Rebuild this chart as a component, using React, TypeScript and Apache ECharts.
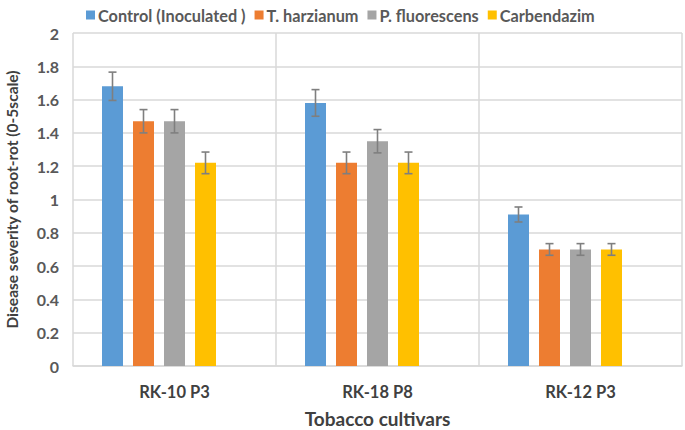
import React, { useEffect, useRef } from "react";
import * as echarts from "echarts";

const categories = ["RK-10 P3", "RK-18 P8", "RK-12 P3"];
const seriesNames = ["Control (Inoculated )", "T. harzianum", "P. fluorescens", "Carbendazim"];
const controlValues = [1.68, 1.58, 0.91];
const harzianumValues = [1.47, 1.22, 0.7];
const fluorescensValues = [1.47, 1.35, 0.7];
const carbendazimValues = [1.22, 1.22, 0.7];
const controlErr = [0.085, 0.08, 0.045];
const harzianumErr = [0.07, 0.065, 0.035];
const fluorescensErr = [0.07, 0.07, 0.035];
const carbendazimErr = [0.065, 0.065, 0.035];
const yTicks = [0, 0.2, 0.4, 0.6, 0.8, 1, 1.2, 1.4, 1.6, 1.8, 2];

const colors = ["#5b9bd5", "#ed7d31", "#a5a5a5", "#ffc000"];
const BAR_W = 21;
const BAR_GAP = 10;

export default function App() {
  const ref = useRef<HTMLDivElement>(null);
  useEffect(() => {
    if (!ref.current) return;
    const chart = echarts.init(ref.current, null, { renderer: "svg" });
    const values = [controlValues, harzianumValues, fluorescensValues, carbendazimValues];
    const errs = [controlErr, harzianumErr, fluorescensErr, carbendazimErr];
    const font = "Lato, 'Open Sans', sans-serif";
    const barSeries: any[] = values.map((v, i) => ({
      name: seriesNames[i],
      type: "bar",
      data: v,
      barWidth: BAR_W,
      barGap: (BAR_GAP / BAR_W) * 100 + "%",
      itemStyle: { color: colors[i] },
    }));
    barSeries.push({
      name: "_spacer",
      type: "bar",
      data: categories.map(() => null),
      barWidth: BAR_W,
      itemStyle: { color: "transparent" },
    });
    const errSeries: any[] = values.map((v, i) => ({
      name: seriesNames[i] + "_err",
      type: "custom",
      data: v.map((val, j) => [j, val - errs[i][j], val + errs[i][j]]),
      z: 10,
      renderItem: (params: any, api: any) => {
        const x = api.value(0);
        const lo = api.coord([x, api.value(1)]);
        const hi = api.coord([x, api.value(2)]);
        const off = (i - 2) * (BAR_W + BAR_GAP);
        const cx = lo[0] + off;
        const cap = 4;
        const style = { stroke: "#7f7f7f", lineWidth: 1.6, fill: "none" };
        return {
          type: "group",
          children: [
            { type: "line", shape: { x1: cx, y1: lo[1], x2: cx, y2: hi[1] }, style },
            { type: "line", shape: { x1: cx - cap, y1: lo[1], x2: cx + cap, y2: lo[1] }, style },
            { type: "line", shape: { x1: cx - cap, y1: hi[1], x2: cx + cap, y2: hi[1] }, style },
          ],
        };
      },
    }));
    chart.setOption({
      animation: false,
      color: colors,
      textStyle: { fontFamily: font },
      legend: {
        data: seriesNames,
        top: 2,
        left: 81,
        itemWidth: 9,
        itemHeight: 9,
        itemGap: 9,
        icon: "rect",
        textStyle: { fontSize: 16.3, fontWeight: "bold", color: "#595959", fontFamily: font, padding: [0, 0, 0, -2] },
      },
      grid: { left: 73, right: 3, top: 33, bottom: 64, outerBoundsMode: "none", containLabel: false },
      xAxis: {
        type: "category",
        data: categories,
        name: "Tobacco cultivars",
        nameLocation: "middle",
        nameGap: 43,
        nameTextStyle: { fontSize: 19, fontWeight: "bold", color: "#404040", fontFamily: font },
        axisLine: { show: true, lineStyle: { color: "#d9d9d9", width: 1.5 } },
        axisTick: { show: false },
        axisLabel: { fontSize: 16.5, fontWeight: "bold", color: "#404040", margin: 17, fontFamily: font },
        splitLine: { show: true, lineStyle: { color: "#d9d9d9", width: 1.5 } },
      },
      yAxis: {
        type: "value",
        min: 0,
        max: 2,
        interval: 0.2,
        name: "Disease severity of root-rot (0-5scale)",
        nameLocation: "middle",
        nameGap: 53,
        nameTextStyle: { fontSize: 15.5, fontWeight: "bold", color: "#404040", fontFamily: font },
        axisLine: { show: false },
        axisTick: { show: false },
        axisLabel: {
          fontSize: 16,
          fontWeight: "bold",
          color: "#595959",
          margin: 14,
          fontFamily: font,
          formatter: (v: number) => {
            const t = yTicks.find((k) => Math.abs(k - v) < 1e-6);
            return t === undefined ? "" : String(t);
          },
        },
        splitLine: { show: true, lineStyle: { color: "#d9d9d9", width: 1.5 } },
      },
      series: [...barSeries, ...errSeries],
    });
    return () => chart.dispose();
  }, []);
  return <div ref={ref} style={{ width: 685, height: 430, position: "absolute", left: 0, top: 0 }} />;
}
